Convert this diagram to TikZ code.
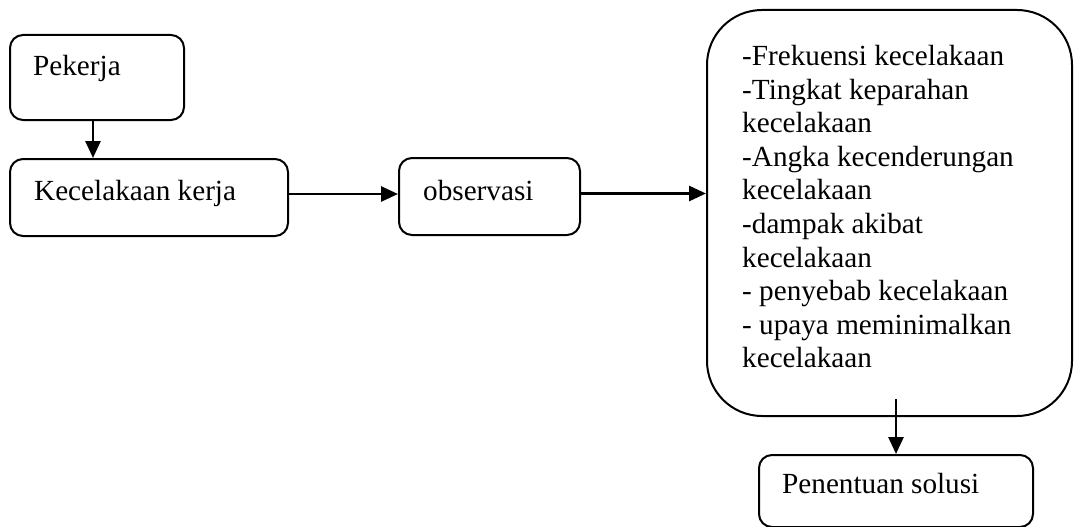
\documentclass[tikz,border=0pt]{standalone}
\usepackage{fontspec}
\setmainfont{Liberation Serif}
\usetikzlibrary{arrows.meta}
\begin{document}
\begin{tikzpicture}[x=1pt,y=-1pt,
  box/.style={draw, line width=2pt, rounded corners=13pt, inner sep=0pt, anchor=north west},
  bigbox/.style={draw, line width=2pt, rounded corners=55pt, inner sep=0pt, anchor=north west},
  lbl/.style={inner sep=0pt, font=\fontsize{29.2}{33.6}\selectfont},
  conn/.style={line width=2.8pt, -{Triangle[length=17pt,width=15pt]}}]
\useasboundingbox (0,0) rectangle (1074,527);

% boxes
\node[box, minimum width=174pt, minimum height=85pt] (pek) at (9,34) {};
\node[box, minimum width=278pt, minimum height=77pt] (kec) at (9,158) {};
\node[box, minimum width=181pt, minimum height=77pt] (obs) at (398,157) {};
\node[bigbox, minimum width=365pt, minimum height=406pt] (ind) at (706,9) {};
\node[box, minimum width=274pt, minimum height=72pt] (sol) at (758,454) {};

% texts
\node[lbl, anchor=base west] (pekT) at (33,76) {Pekerja};
\node[lbl, anchor=base west] (kecT) at (34,200) {Kecelakaan kerja};
\node[lbl, anchor=base west] (obsT) at (423,200) {observasi};
\node[lbl, anchor=base west] (solT) at (782,493) {Penentuan solusi};
\node[lbl, anchor=north west, align=left] (indT) at (742,45) {-Frekuensi kecelakaan\\-Tingkat keparahan\\kecelakaan\\-Angka kecenderungan\\kecelakaan\\-dampak akibat\\kecelakaan\\- penyebab kecelakaan\\- upaya meminimalkan\\kecelakaan};

% connectors
\draw[conn] ([xshift=-4pt]pek.south) -- ([xshift=-4pt]pek.south |- kec.north);
\draw[conn] ([yshift=3.5pt]kec.east) -- ([yshift=3.5pt]kec.east -| obs.west);
\draw[conn] ([yshift=3pt]obs.east) -- ([yshift=3pt]obs.east -| ind.west);
\coordinate (indout) at ([yshift=18pt]ind.south -| sol.north);
\draw[conn] (indout) -- (sol.north);
\end{tikzpicture}
\end{document}
